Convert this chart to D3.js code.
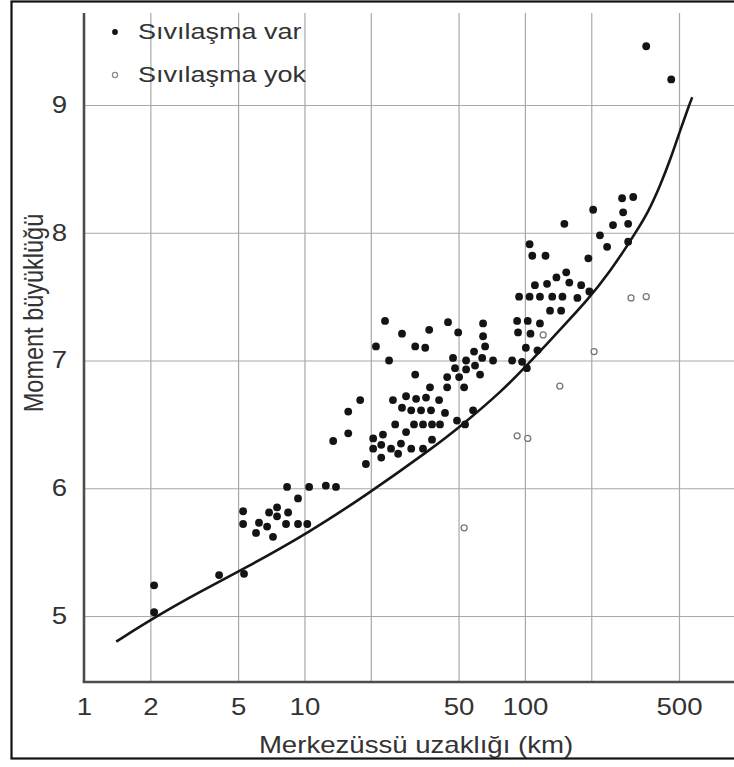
<!DOCTYPE html>
<html>
<head>
<meta charset="utf-8">
<script src="https://cdn.jsdelivr.net/npm/d3@7"></script>
<style>
  body { margin: 0; background: #fff; }
  svg { display: block; }
  text { font-family: "Liberation Sans", Arial, sans-serif; fill: #333; }
  .grid line { stroke: #a8a8a8; stroke-width: 1.2; }
  .grid path, .labels path { display: none; }
  .labels text { font-size: 23px; }
</style>
</head>
<body>
<div id="chart"></div>
<script>
// liquefaction observed (filled dots): epicentral distance (km) and moment magnitude
const liqDistance = [2.08, 2.08, 4.1, 5.32, 5.27, 5.27, 6.03, 6.22, 6.77, 6.91,
    7.2, 7.51, 7.51, 8.25, 8.43, 8.34, 9.35, 9.35, 10.3, 10.5,
    12.5, 13.9, 13.5, 15.8, 15.8, 17.9, 19.0, 20.5, 20.5, 21.1,
    22.3, 22.3, 22.7, 23.2, 24.2, 24.7, 25.2, 25.8, 26.6, 27.4,
    27.7, 27.7, 28.9, 28.9, 30.5, 30.5, 31.4, 31.8, 31.8, 32.1,
    33.8, 34.5, 34.5, 35.3, 35.6, 36.8, 37.1, 37.5, 37.9, 37.9,
    40.8, 41.2, 43.4, 44.4, 44.4, 44.8, 47.2, 48.2, 49.2, 49.8,
    50.3, 53.0, 53.5, 54.1, 54.1, 58.2, 58.8, 59.4, 62.6, 64.0,
    64.6, 64.6, 66.0, 71.7, 87.5, 97.1, 102, 101, 114, 93.1,
    106, 92.2, 103, 117, 94.1, 105, 117, 133, 148, 173,
    196, 130, 146, 111, 126, 139, 154, 159, 180, 108,
    124, 194, 105, 151, 204, 219, 236, 251, 294, 294,
    276, 310, 279, 355, 461];
const liqMagnitude = [5.24, 5.03, 5.32, 5.33, 5.82, 5.72, 5.65, 5.73, 5.70, 5.81,
    5.62, 5.85, 5.78, 5.72, 5.81, 6.01, 5.92, 5.72, 5.72, 6.01,
    6.02, 6.01, 6.37, 6.60, 6.43, 6.69, 6.19, 6.39, 6.31, 7.11,
    6.34, 6.24, 6.42, 7.31, 7.00, 6.31, 6.69, 6.50, 6.27, 6.35,
    7.21, 6.63, 6.72, 6.44, 6.61, 6.31, 6.50, 7.11, 6.89, 6.70,
    6.61, 6.50, 6.31, 7.10, 6.71, 7.24, 6.79, 6.61, 6.50, 6.38,
    6.69, 6.50, 6.59, 6.79, 6.87, 7.30, 7.02, 6.94, 6.53, 7.22,
    6.87, 6.79, 6.50, 7.00, 6.93, 6.61, 7.07, 6.96, 6.89, 7.02,
    7.29, 7.19, 7.11, 7.00, 7.00, 6.99, 6.94, 7.10, 7.08, 7.22,
    7.21, 7.31, 7.31, 7.29, 7.50, 7.50, 7.50, 7.50, 7.50, 7.49,
    7.54, 7.39, 7.39, 7.59, 7.60, 7.65, 7.69, 7.61, 7.59, 7.82,
    7.82, 7.80, 7.91, 8.07, 8.18, 7.98, 7.89, 8.06, 8.07, 7.93,
    8.27, 8.28, 8.16, 9.46, 9.20];

// no liquefaction (open circles)
const noLiqDistance = [53, 92.2, 103, 121, 144, 206, 303, 355];
const noLiqMagnitude = [5.69, 6.41, 6.39, 7.20, 6.80, 7.07, 7.49, 7.50];

// limit curve
const boundDistance = [1.4, 2.14, 3.36, 5.32, 10.4, 19.2, 37.1, 52.4, 79.6, 102,
    144, 192, 244, 294, 320, 362, 411, 456, 506, 556, 574];
const boundMagnitude = [4.80, 5.00, 5.19, 5.37, 5.65, 5.95, 6.30, 6.50, 6.77, 6.96,
    7.24, 7.47, 7.70, 7.91, 8.01, 8.16, 8.37, 8.57, 8.80, 9.00, 9.06];

// axes
const xGrid = [2, 5, 10, 20, 50, 100, 200, 500];
const xLabels = [1, 2, 5, 10, 50, 100, 500];
const yTicks = [5, 6, 7, 8, 9];

const legendItems = ['Sıvılaşma var', 'Sıvılaşma yok'];
const xTitle = 'Merkezüssü uzaklığı (km)';
const yTitle = 'Moment büyüklüğü';

class Chart {

    constructor(opts) {
        this.element = opts.element;
        this.draw();
    }

    draw() {
        this.width = 734;
        this.height = 767;
        // plot box: left axis, top of grid, bottom axis
        this.box = { left: 84, top: 13, bottom: 682 };
        // the source picture is stretched a bit horizontally
        this.stretch = 'scale(1.2,1)';

        this.element.innerHTML = '';
        this.svg = d3.select(this.element).append('svg')
            .attr('width', this.width)
            .attr('height', this.height);

        this.createScales();
        this.addGrid();
        this.addAxes();
        this.addCurve();
        this.addPoints();
        this.addLegend();

        // outer frame
        this.svg.append('rect')
            .attr('x', 11.5).attr('y', 1.5)
            .attr('width', 800).attr('height', 757)
            .attr('fill', 'none')
            .attr('stroke', '#111')
            .attr('stroke-width', 2.2);
    }

    createScales() {
        this.x = d3.scaleLog()
            .domain([1, 500])
            .range([this.box.left, 679]);

        this.y = d3.scaleLinear()
            .domain([5, 9])
            .range([616, 105]);
    }

    addGrid() {
        const b = this.box;

        this.svg.append('g')
            .attr('class', 'grid')
            .attr('transform', `translate(0,${b.bottom})`)
            .call(d3.axisBottom(this.x)
                .tickValues(xGrid)
                .tickSize(-(b.bottom - b.top))
                .tickFormat(''));

        this.svg.append('g')
            .attr('class', 'grid')
            .attr('transform', `translate(${b.left},0)`)
            .call(d3.axisLeft(this.y)
                .tickValues(yTicks)
                .tickSize(-(this.width - b.left + 20))
                .tickFormat(''));
    }

    addAxes() {
        const b = this.box;

        const xAxis = this.svg.append('g')
            .attr('class', 'labels')
            .attr('transform', `translate(0,${b.bottom})`)
            .call(d3.axisBottom(this.x)
                .tickValues(xLabels)
                .tickSize(0)
                .tickPadding(17)
                .tickFormat(d3.format('d')));
        xAxis.selectAll('text').attr('transform', this.stretch);

        const yAxis = this.svg.append('g')
            .attr('class', 'labels')
            .attr('transform', `translate(${b.left},0)`)
            .call(d3.axisLeft(this.y)
                .tickValues(yTicks)
                .tickSize(0)
                .tickPadding(14)
                .tickFormat(d3.format('d')));
        yAxis.selectAll('text').attr('transform', this.stretch);

        // axis lines
        this.svg.append('line')
            .attr('x1', b.left).attr('x2', b.left)
            .attr('y1', b.top).attr('y2', b.bottom)
            .attr('stroke', '#4d4d4d').attr('stroke-width', 2.6);
        this.svg.append('line')
            .attr('x1', b.left - 1.3).attr('x2', this.width + 10)
            .attr('y1', b.bottom).attr('y2', b.bottom)
            .attr('stroke', '#4d4d4d').attr('stroke-width', 2.6);

        // titles
        this.svg.append('text')
            .attr('transform', `translate(416,753) ${this.stretch}`)
            .attr('text-anchor', 'middle')
            .style('font-size', '23px')
            .text(xTitle);

        this.svg.append('text')
            .attr('transform', `translate(43,313) ${this.stretch} rotate(-90)`)
            .attr('text-anchor', 'middle')
            .style('font-size', '23.5px')
            .text(yTitle);
    }

    addCurve() {
        const pts = boundDistance.map((d, i) => [d, boundMagnitude[i]]);
        const line = d3.line()
            .x(d => this.x(d[0]))
            .y(d => this.y(d[1]))
            .curve(d3.curveBasis);

        this.svg.append('path')
            .datum(pts)
            .attr('d', line)
            .attr('fill', 'none')
            .attr('stroke', '#161616')
            .attr('stroke-width', 2.6);
    }

    addPoints() {
        const filled = liqDistance.map((d, i) => [d, liqMagnitude[i]]);
        const open = noLiqDistance.map((d, i) => [d, noLiqMagnitude[i]]);

        this.svg.append('g')
            .selectAll('circle')
            .data(filled)
            .enter()
            .append('circle')
            .attr('cx', d => this.x(d[0]))
            .attr('cy', d => this.y(d[1]))
            .attr('r', 3.9)
            .attr('fill', '#141414');

        this.svg.append('g')
            .selectAll('circle')
            .data(open)
            .enter()
            .append('circle')
            .attr('cx', d => this.x(d[0]))
            .attr('cy', d => this.y(d[1]))
            .attr('r', 3)
            .attr('fill', '#fff')
            .attr('stroke', '#777')
            .attr('stroke-width', 1.3);
    }

    addLegend() {
        const g = this.svg.append('g');
        const rows = [32, 75];

        g.append('circle')
            .attr('cx', 115).attr('cy', rows[0])
            .attr('r', 2.9).attr('fill', '#141414');
        g.append('circle')
            .attr('cx', 115).attr('cy', rows[1])
            .attr('r', 2.6).attr('fill', '#fff')
            .attr('stroke', '#888').attr('stroke-width', 1.2);

        legendItems.forEach((t, i) => {
            g.append('text')
                .attr('transform', `translate(138,${rows[i] + 7}) ${this.stretch}`)
                .style('font-size', '22.5px')
                .text(t);
        });
    }
}

new Chart({ element: document.getElementById('chart') });
</script>
</body>
</html>
